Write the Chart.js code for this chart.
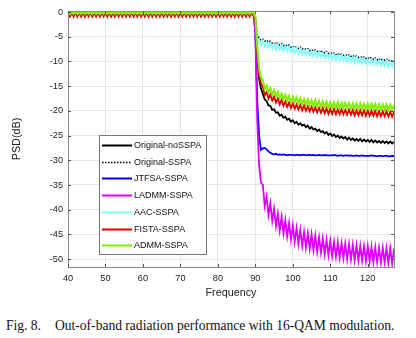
<!DOCTYPE html>
<html>
<head>
<meta charset="utf-8">
<script src="https://cdn.jsdelivr.net/npm/chart.js@4.4.1/dist/chart.umd.min.js"></script>
<style>
  html, body { margin: 0; padding: 0; background: #fff; }
  #wrap { position: relative; width: 416px; height: 338px; overflow: hidden; }
  #plot { position: absolute; left: 0; top: 0; width: 416px; height: 305px; }
  #caption { position: absolute; left: 0; top: 319px; width: 416px; height: 16px;
    font-family: "Liberation Serif", "Times New Roman", serif; font-size: 13.55px; line-height: 1; color: #111; white-space: nowrap; }
  #caption span { position: absolute; top: 0; }
</style>
</head>
<body>
<div id="wrap">
  <div id="plot"><canvas id="psdChart"></canvas></div>
  <div id="caption"><span style="left:6px">Fig. 8.</span><span style="left:55px">Out-of-band radiation performance with 16-QAM modulation.</span></div>
</div>
<script>
// frequency grid (0.5 step)
const freq = [
  40,40.5,41,41.5,42,42.5,43,43.5,44,44.5,45,45.5,46,46.5,47,47.5,48,48.5,49,49.5,
  50,50.5,51,51.5,52,52.5,53,53.5,54,54.5,55,55.5,56,56.5,57,57.5,58,58.5,59,59.5,
  60,60.5,61,61.5,62,62.5,63,63.5,64,64.5,65,65.5,66,66.5,67,67.5,68,68.5,69,69.5,
  70,70.5,71,71.5,72,72.5,73,73.5,74,74.5,75,75.5,76,76.5,77,77.5,78,78.5,79,79.5,
  80,80.5,81,81.5,82,82.5,83,83.5,84,84.5,85,85.5,86,86.5,87,87.5,88,88.5,89,89.5,
  90,90.5,91,91.5,92,92.5,93,93.5,94,94.5,95,95.5,96,96.5,97,97.5,98,98.5,99,99.5,
  100,100.5,101,101.5,102,102.5,103,103.5,104,104.5,105,105.5,106,106.5,107,107.5,108,108.5,109,109.5,
  110,110.5,111,111.5,112,112.5,113,113.5,114,114.5,115,115.5,116,116.5,117,117.5,118,118.5,119,119.5,
  120,120.5,121,121.5,122,122.5,123,123.5,124,124.5,125,125.5,126,126.5,127
];

// in-band ripple (40 .. 89.5)
const passMain = [
  0,-0.4,0,-0.4,0,-0.4,0,-0.4,0,-0.4,0,-0.4,0,-0.4,0,-0.4,0,-0.4,0,-0.4,
  0,-0.4,0,-0.4,0,-0.4,0,-0.4,0,-0.4,0,-0.4,0,-0.4,0,-0.4,0,-0.4,0,-0.4,
  0,-0.4,0,-0.4,0,-0.4,0,-0.4,0,-0.4,0,-0.4,0,-0.4,0,-0.4,0,-0.4,0,-0.4,
  0,-0.4,0,-0.4,0,-0.4,0,-0.4,0,-0.4,0,-0.4,0,-0.4,0,-0.4,0,-0.4,0,-0.4,
  0,-0.4,0,-0.4,0,-0.4,0,-0.4,0,-0.4,0,-0.4,0,-0.4,0,-0.4,0,-0.4,0,-0.3
];
const passRed = [
  -0.15,-0.95,-0.15,-0.95,-0.15,-0.95,-0.15,-0.95,-0.15,-0.95,-0.15,-0.95,-0.15,-0.95,-0.15,-0.95,-0.15,-0.95,-0.15,-0.95,
  -0.15,-0.95,-0.15,-0.95,-0.15,-0.95,-0.15,-0.95,-0.15,-0.95,-0.15,-0.95,-0.15,-0.95,-0.15,-0.95,-0.15,-0.95,-0.15,-0.95,
  -0.15,-0.95,-0.15,-0.95,-0.15,-0.95,-0.15,-0.95,-0.15,-0.95,-0.15,-0.95,-0.15,-0.95,-0.15,-0.95,-0.15,-0.95,-0.15,-0.95,
  -0.15,-0.95,-0.15,-0.95,-0.15,-0.95,-0.15,-0.95,-0.15,-0.95,-0.15,-0.95,-0.15,-0.95,-0.15,-0.95,-0.15,-0.95,-0.15,-0.95,
  -0.15,-0.95,-0.15,-0.95,-0.15,-0.95,-0.15,-0.95,-0.15,-0.95,-0.15,-0.95,-0.15,-0.95,-0.15,-0.95,-0.15,-0.95,-0.15,-0.7
];

// out-of-band part (90 .. 127)
const origNoSSPA = [
  -2.0, -9.0, -13.5, -15.5, -16.6, -17.7, -18.0, -18.9, -19.0, -19.8,
  -19.7, -20.4, -20.3, -21.0, -20.8, -21.4, -21.2, -21.8, -21.6, -22.2,
  -21.9, -22.5, -22.2, -22.8, -22.5, -23.0, -22.8, -23.3, -23.0, -23.6,
  -23.3, -23.8, -23.6, -24.1, -23.8, -24.3, -24.1, -24.6, -24.3, -24.9,
  -24.6, -25.1, -24.8, -25.3, -25.0, -25.5, -25.2, -25.6, -25.3, -25.8,
  -25.4, -25.9, -25.6, -26.0, -25.7, -26.1, -25.7, -26.2, -25.8, -26.2,
  -25.9, -26.3, -25.9, -26.4, -26.0, -26.4, -26.1, -26.5, -26.1, -26.5,
  -26.2, -26.6, -26.2, -26.6, -26.3
];
const origSSPA = [
  -1.0, -4.6, -5.3, -5.7, -5.5, -5.9, -5.7, -6.1, -5.9, -6.3,
  -6.2, -6.5, -6.3, -6.7, -6.4, -6.8, -6.6, -6.9, -6.7, -7.1,
  -6.9, -7.2, -7.0, -7.4, -7.1, -7.5, -7.3, -7.6, -7.4, -7.8,
  -7.6, -7.9, -7.7, -8.0, -7.8, -8.2, -7.9, -8.3, -8.0, -8.4,
  -8.2, -8.5, -8.3, -8.6, -8.4, -8.7, -8.5, -8.8, -8.6, -8.9,
  -8.7, -9.0, -8.8, -9.1, -8.9, -9.2, -9.0, -9.3, -9.1, -9.4,
  -9.2, -9.5, -9.2, -9.6, -9.3, -9.7, -9.4, -9.8, -9.5, -9.8,
  -9.6, -9.9, -9.7, -10.0, -9.8
];
const jtfsa = [
  -4.0, -18.0, -25.0, -27.9, -27.6, -27.5, -27.8, -28.2, -28.5, -28.7,
  -28.8, -28.7, -28.9, -28.8, -28.9, -28.8, -28.9, -29.0, -28.9, -28.9,
  -28.9, -29.0, -28.9, -28.9, -29.0, -28.9, -28.9, -29.0, -28.9, -28.9,
  -29.0, -28.9, -29.0, -29.0, -28.9, -29.0, -29.0, -28.9, -29.0, -29.0,
  -29.0, -29.0, -28.9, -29.0, -29.1, -29.0, -29.0, -29.1, -29.0, -29.0,
  -29.1, -29.0, -29.1, -29.1, -29.0, -29.1, -29.1, -29.0, -29.1, -29.1,
  -29.1, -29.1, -29.0, -29.1, -29.1, -29.2, -29.1, -29.1, -29.2, -29.1,
  -29.1, -29.2, -29.2, -29.1, -29.2
];
const ladmm = [
  -4.0, -22.0, -31.0, -34.5, -35.0, -39.3, -37.4, -41.1, -38.7, -42.3,
  -39.8, -43.3, -40.8, -44.2, -41.5, -44.8, -42.1, -45.4, -42.7, -46.0,
  -43.2, -46.5, -43.7, -46.9, -44.1, -47.3, -44.5, -47.7, -44.8, -47.9,
  -45.0, -48.2, -45.3, -48.5, -45.6, -48.7, -45.8, -49.0, -46.1, -49.2,
  -46.3, -49.4, -46.5, -49.5, -46.6, -49.7, -46.8, -49.8, -46.9, -50.0,
  -47.0, -50.1, -47.1, -50.2, -47.2, -50.3, -47.3, -50.3, -47.4, -50.4,
  -47.4, -50.5, -47.5, -50.6, -47.6, -50.6, -47.7, -50.7, -47.7, -50.7,
  -47.8, -50.8, -47.8, -50.9, -47.9
];
const aac = [
  -1.0, -5.5, -5.6, -6.7, -5.8, -6.9, -6.1, -7.2, -6.3, -7.4,
  -6.5, -7.6, -6.6, -7.7, -6.8, -7.9, -6.9, -8.0, -7.1, -8.1,
  -7.2, -8.3, -7.3, -8.4, -7.5, -8.6, -7.6, -8.7, -7.8, -8.8,
  -7.9, -9.0, -8.0, -9.1, -8.1, -9.2, -8.3, -9.3, -8.4, -9.4,
  -8.5, -9.6, -8.6, -9.7, -8.7, -9.8, -8.8, -9.9, -8.9, -10.0,
  -9.0, -10.1, -9.1, -10.2, -9.2, -10.3, -9.3, -10.4, -9.4, -10.5,
  -9.5, -10.5, -9.6, -10.6, -9.7, -10.7, -9.8, -10.8, -9.8, -10.9,
  -9.9, -11.0, -10.0, -11.1, -10.1
];
const fista = [
  -1.5, -8.0, -12.5, -14.5, -15.1, -16.8, -16.2, -17.5, -16.7, -17.9,
  -17.1, -18.3, -17.5, -18.7, -17.8, -19.0, -18.1, -19.2, -18.3, -19.4,
  -18.5, -19.6, -18.7, -19.7, -18.8, -19.9, -18.9, -20.0, -19.1, -20.1,
  -19.2, -20.2, -19.3, -20.3, -19.4, -20.4, -19.4, -20.5, -19.5, -20.6,
  -19.6, -20.6, -19.6, -20.7, -19.7, -20.7, -19.7, -20.7, -19.8, -20.8,
  -19.8, -20.8, -19.8, -20.9, -19.9, -20.9, -19.9, -20.9, -19.9, -21.0,
  -20.0, -21.0, -20.0, -21.0, -20.0, -21.1, -20.1, -21.1, -20.1, -21.1,
  -20.1, -21.1, -20.2, -21.2, -20.2
];
const admm = [
  -1.0, -7.0, -11.5, -13.3, -13.8, -15.6, -14.9, -16.2, -15.4, -16.7,
  -15.8, -17.1, -16.2, -17.4, -16.5, -17.7, -16.8, -18.0, -17.0, -18.2,
  -17.2, -18.3, -17.3, -18.5, -17.5, -18.6, -17.6, -18.8, -17.7, -18.9,
  -17.9, -19.0, -17.9, -19.1, -18.0, -19.2, -18.1, -19.2, -18.2, -19.3,
  -18.3, -19.4, -18.3, -19.4, -18.3, -19.5, -18.4, -19.5, -18.4, -19.5,
  -18.5, -19.6, -18.5, -19.6, -18.5, -19.6, -18.5, -19.6, -18.6, -19.7,
  -18.6, -19.7, -18.6, -19.7, -18.6, -19.8, -18.7, -19.8, -18.7, -19.8,
  -18.7, -19.8, -18.8, -19.9, -18.8
];

const seriesNames = ['Original-noSSPA', 'Original-SSPA', 'JTFSA-SSPA', 'LADMM-SSPA', 'AAC-SSPA', 'FISTA-SSPA', 'ADMM-SSPA'];
const seriesColors = ['#000000', '#000000', '#0000ff', '#dd00ff', '#80ffff', '#e00000', '#7ff000'];

const series = [
  passMain.concat(origNoSSPA),
  passMain.concat(origSSPA),
  passMain.concat(jtfsa),
  passMain.concat(ladmm),
  passMain.concat(aac),
  passRed.concat(fista),
  passMain.concat(admm)
];

const FONT = "'Liberation Sans', Arial, Helvetica, sans-serif";

// MATLAB-like box with inward ticks
const frameBox = {
  id: 'frameBox',
  afterDraw(chart) {
    const { ctx, chartArea: a, scales: { x, y } } = chart;
    ctx.save();
    ctx.strokeStyle = '#8a8a8a';
    ctx.lineWidth = 1;
    ctx.strokeRect(a.left + 0.5, a.top + 0.5, a.right - a.left, a.bottom - a.top);
    ctx.strokeStyle = '#555';
    ctx.beginPath();
    x.ticks.forEach(t => {
      const px = Math.round(x.getPixelForValue(t.value)) + 0.5;
      ctx.moveTo(px, a.bottom); ctx.lineTo(px, a.bottom - 3);
      ctx.moveTo(px, a.top); ctx.lineTo(px, a.top + 3);
    });
    y.ticks.forEach(t => {
      const py = Math.round(y.getPixelForValue(t.value)) + 0.5;
      ctx.moveTo(a.left, py); ctx.lineTo(a.left + 3, py);
      ctx.moveTo(a.right, py); ctx.lineTo(a.right - 3, py);
    });
    ctx.stroke();
    ctx.restore();
  }
};

// legend box inside the axes, lower left
const boxLegend = {
  id: 'boxLegend',
  afterDraw(chart) {
    const ctx = chart.ctx;
    const bx = 99, by = 135, bw = 107, bh = 119;
    ctx.save();
    ctx.fillStyle = '#fff';
    ctx.fillRect(bx, by, bw, bh);
    ctx.strokeStyle = '#777';
    ctx.lineWidth = 1;
    ctx.strokeRect(bx + 0.5, by + 0.5, bw, bh);
    ctx.font = '9px ' + FONT;
    ctx.textBaseline = 'middle';
    chart.data.datasets.forEach((ds, i) => {
      const yy = Math.round(145 + i * 16.7) + 0.5;
      ctx.strokeStyle = ds.borderColor;
      ctx.lineWidth = ds.borderDash.length ? 1.5 : 2;
      ctx.setLineDash(ds.borderDash);
      ctx.beginPath();
      ctx.moveTo(102, yy);
      ctx.lineTo(132, yy);
      ctx.stroke();
      ctx.setLineDash([]);
      ctx.fillStyle = '#111';
      ctx.fillText(ds.label, 134, yy);
    });
    ctx.restore();
  }
};

new Chart(document.getElementById('psdChart'), {
  type: 'line',
  data: {
    datasets: series.map((vals, i) => ({
      label: seriesNames[i],
      data: freq.map((f, k) => ({ x: f, y: vals[k] })),
      borderColor: seriesColors[i],
      borderWidth: i === 1 ? 1.5 : (i === 6 ? 2 : 1.8),
      borderDash: i === 1 ? [1.5, 1.5] : [],
      pointRadius: 0,
      tension: 0,
      order: -i,
      // in the pass band these series lie fully under ADMM, as in the figure
      segment: i < 5 ? { borderColor: c => (c.p1.parsed.x < 90 ? 'rgba(0,0,0,0)' : undefined) } : undefined
    }))
  },
  options: {
    responsive: true,
    maintainAspectRatio: false,
    animation: false,
    layout: { padding: { left: 0, top: 11, right: 22, bottom: 0 } },
    scales: {
      x: {
        type: 'linear',
        min: 40,
        max: 127,
        afterFit(s) { s.height = 38; },
        ticks: { stepSize: 10, includeBounds: false, padding: 6, color: '#222', font: { family: FONT, size: 9.2 }, maxRotation: 0 },
        grid: { color: '#e6e6e6', drawTicks: false },
        border: { display: false },
        title: { display: true, text: 'Frequency', color: '#222', font: { family: FONT, size: 10.8 }, padding: { top: 0, bottom: 5 } }
      },
      y: {
        min: -51.6,
        max: 0.2,
        afterFit(s) { s.width = 68; },
        ticks: { stepSize: 5, includeBounds: false, padding: 5, color: '#222', font: { family: FONT, size: 9.2 } },
        grid: { color: '#e6e6e6', drawTicks: false },
        border: { display: false },
        title: { display: true, text: 'PSD(dB)', color: '#222', font: { family: FONT, size: 10.8 }, padding: { top: 11, bottom: 0 } }
      }
    },
    plugins: {
      legend: { display: false },
      tooltip: { enabled: false }
    }
  },
  plugins: [frameBox, boxLegend]
});
</script>
</body>
</html>
